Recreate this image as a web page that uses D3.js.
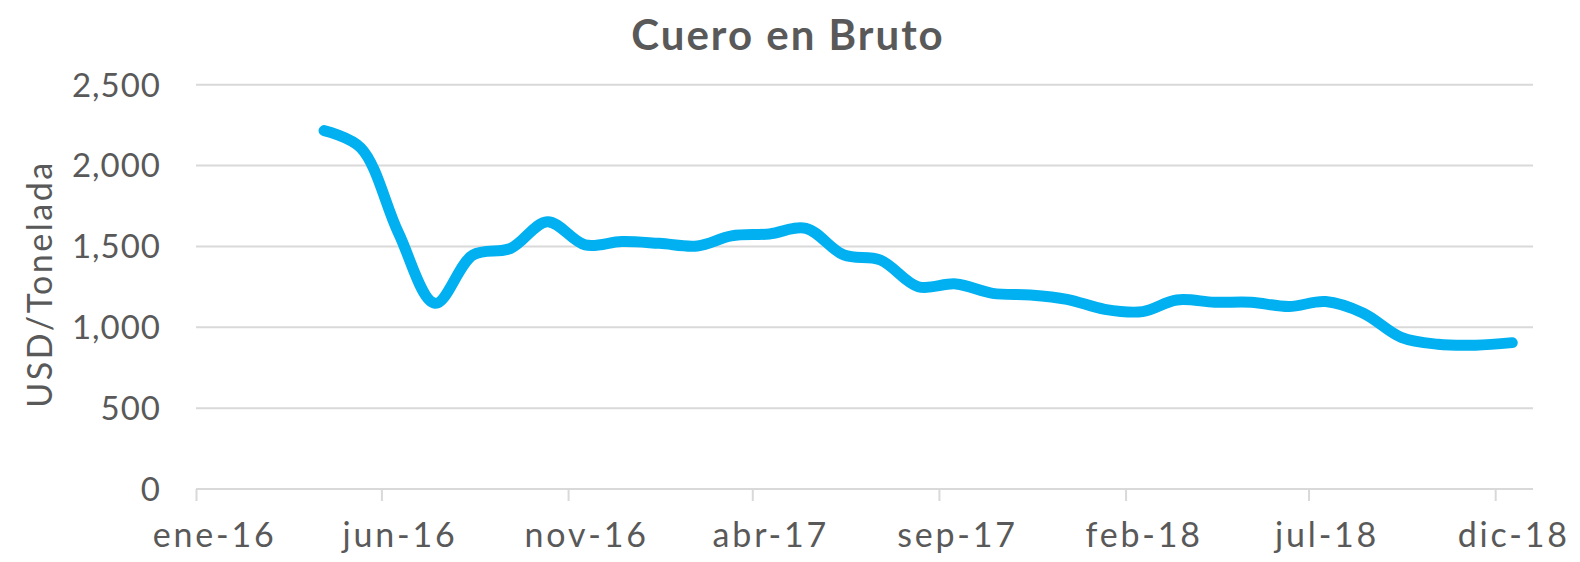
<!DOCTYPE html>
<html><head><meta charset="utf-8">
<script src="https://cdn.jsdelivr.net/npm/d3@7"></script>
<style>
html,body{margin:0;padding:0;background:#fff;}
svg{display:block;}
text{font-family:"Lato","Open Sans",sans-serif;fill:#595959;}
</style></head>
<body>
<svg id="chart" width="1580" height="562"></svg>
<script>
const months = ["2016-04","2016-05","2016-06","2016-07","2016-08","2016-09","2016-10","2016-11","2016-12",
  "2017-01","2017-02","2017-03","2017-04","2017-05","2017-06","2017-07","2017-08","2017-09","2017-10","2017-11","2017-12",
  "2018-01","2018-02","2018-03","2018-04","2018-05","2018-06","2018-07","2018-08","2018-09","2018-10","2018-11","2018-12"];
const values = [2216,2110,1583,1148,1447,1488,1653,1509,1530,
  1519,1503,1565,1577,1612,1447,1416,1251,1268,1210,1200,1173,
  1111,1097,1169,1155,1155,1128,1159,1087,938,895,889,905];
const tickMonths = ["2016-01","2016-06","2016-11","2017-04","2017-09","2018-02","2018-07","2018-12"];
const tickLabels = ["ene-16","jun-16","nov-16","abr-17","sep-17","feb-18","jul-18","dic-18"];
const yTicks = [0,500,1000,1500,2000,2500];
const title = "Cuero en Bruto";
const yTitle = "USD/Tonelada";

const svg = d3.select("#chart");
const parseM = d3.timeParse("%Y-%m");
const mid = d => d3.timeDay.offset(parseM(d), 14);

const x = d3.scaleTime().domain([parseM("2016-01"), parseM("2019-01")]).range([196, 1533]);
const y = d3.scaleLinear().domain([0, 2500]).range([489, 84.7]);

// gridlines
svg.append("g").selectAll("line").data(yTicks.filter(v => v > 0)).join("line")
  .attr("x1", x.range()[0]).attr("x2", x.range()[1])
  .attr("y1", d => y(d)).attr("y2", d => y(d))
  .attr("stroke", "#D9D9D9").attr("stroke-width", 2);

// y tick labels
svg.append("g").selectAll("text").data(yTicks).join("text")
  .attr("x", 161).attr("y", d => y(d)).attr("dy", "0.36em")
  .attr("text-anchor", "end").style("font-size", "33px").style("letter-spacing", "1px")
  .text(d => d3.format(",")(d));

// x axis
const xAxis = d3.axisBottom(x)
  .tickValues(tickMonths.map(parseM))
  .tickSize(12).tickFormat("");
const gx = svg.append("g").attr("transform", "translate(0,489)").call(xAxis);
gx.select(".domain").attr("stroke", "#D9D9D9").attr("stroke-width", 2).attr("d", `M${x.range()[0]},0V0H${x.range()[1]}`);
gx.selectAll(".tick line").attr("stroke", "#D9D9D9").attr("stroke-width", 2);

svg.append("g").selectAll("text").data(tickMonths).join("text")
  .attr("x", (d) => x(mid(d)) + 1.5).attr("y", 547)
  .attr("text-anchor", "middle").style("font-size", "34px").style("letter-spacing", "2.8px")
  .text((d, i) => tickLabels[i]);

// line
const line = d3.line()
  .x((d, i) => x(mid(months[i])))
  .y(d => y(d))
  .curve(d3.curveCatmullRom.alpha(0.5));
svg.append("path").datum(values)
  .attr("d", line).attr("fill", "none")
  .attr("stroke", "#00B0F0").attr("stroke-width", 11)
  .attr("stroke-linecap", "round").attr("stroke-linejoin", "round");

// title
svg.append("text").attr("x", 788).attr("y", 50).attr("text-anchor", "middle")
  .style("font-size", "42px").style("font-weight", "bold").style("letter-spacing", "2px").text(title);

// y title
svg.append("text").attr("transform", "translate(52,284) rotate(-90)")
  .attr("text-anchor", "middle").style("font-size", "34px").style("letter-spacing", "2.5px").text(yTitle);
</script>
</body></html>
